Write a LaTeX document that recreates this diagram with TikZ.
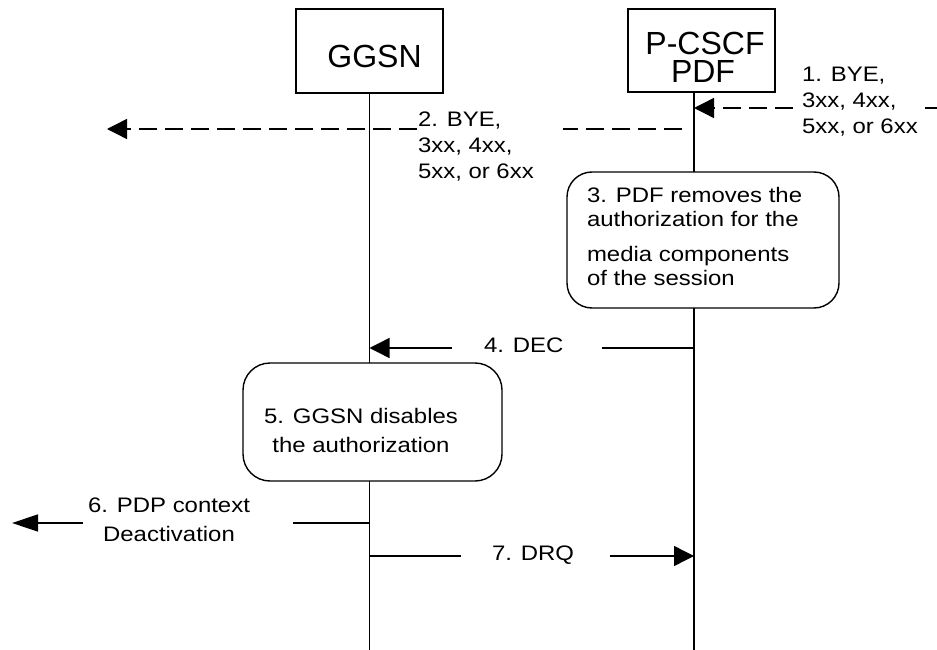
\documentclass[tikz,border=0pt]{standalone}
\usepackage{fontspec}
\setmainfont{Liberation Sans}
\newfontfamily\lblfont[FakeStretch=1.14]{Liberation Sans}
\usetikzlibrary{arrows.meta}
\begin{document}
\begin{tikzpicture}[x=1pt,y=-1pt,
  every node/.style={inner sep=0pt, outer sep=0pt},
  ln/.style={line width=1.4pt},
  dsh/.style={line width=1.4pt, dash pattern=on 18pt off 8pt},
  tip/.style={-{Triangle[length=20pt,width=20pt]}},
  tipsix/.style={-{Triangle[length=26pt,width=17pt]}},
  entity/.style={draw, line width=1.4pt, fill=white},
  actbox/.style={draw, line width=1.4pt, fill=white, rounded corners=25pt},
  titlefont/.style={font=\fontsize{32}{28}\selectfont},
  lbl/.style={font=\lblfont\fontsize{21}{26}\selectfont}
]
\useasboundingbox[fill=white] (0,0) rectangle (937,650);

% entities
\node[entity, minimum width=147pt, minimum height=84pt] (ggsnbox) at (369.5,51) {};
\node[titlefont, anchor=base] (ggsntxt) at (374.5,68) {GGSN};
\node[entity, minimum width=147pt, minimum height=83pt] (pcscfbox) at (701.5,50.5) {};
\node[titlefont, anchor=base] (pcscftxt) at (705,55) {P-CSCF};
\node[titlefont, anchor=base] (pdftxt) at (703,83) {PDF};

% action boxes
\node[actbox, minimum width=272pt, minimum height=136pt] (box3) at (703,240) {};
\node[lbl, anchor=north west, align=left, font=\lblfont\fontsize{21}{24}\selectfont] (box3txt) at (587,187)
  {3. PDF removes the\\authorization for the\\[11pt]media components\\of the session};
\node[actbox, rounded corners=27pt, minimum width=259pt, minimum height=118pt] (box5) at (372.5,422) {};
\node[lbl, anchor=north, align=center, font=\lblfont\fontsize{21}{29}\selectfont] (box5txt) at (361,408)
  {5. GGSN disables\\the authorization};

% lifeline ends
\coordinate (gend) at (369.5,650);
\coordinate (pend) at (694,650);
\draw[ln] (ggsnbox.south -| gend) -- (box5.north -| gend);
\draw[ln] (box5.south -| gend) -- (gend);
\draw[ln] (pcscfbox.south -| pend) -- (box3.north -| pend);
\draw[ln] (box3.south -| pend) -- (pend);

% message 1
\coordinate (m1r) at (937,108);
\coordinate (m1a) at (925,108);
\coordinate (m1b) at (793,108);
\draw[dsh] (m1r) -- (m1a);
\draw[dsh, tip] (m1b) -- (m1b -| pend);
\node[lbl, anchor=north west, align=left] (l1) at (802,67) {1. BYE,\\3xx, 4xx,\\5xx, or 6xx};

% message 2
\coordinate (m2a) at (682,129);
\coordinate (m2b) at (563,129);
\coordinate (m2c) at (417,129);
\coordinate (m2t) at (107,129);
\draw[dsh] (m2a) -- (m2b);
\draw[dsh, tip] (m2c) -- (m2t);
\node[lbl, anchor=north west, align=left] (l2) at (418,112) {2. BYE,\\3xx, 4xx,\\5xx, or 6xx};

% message 4
\coordinate (m4a) at (452,348);
\coordinate (m4b) at (602,348);
\draw[ln, tip] (m4a) -- (m4a -| gend);
\draw[ln] (m4b) -- (m4b -| pend);
\node[lbl, anchor=base west] (l4) at (484,352) {4. DEC};

% message 6
\coordinate (m6a) at (293,523);
\coordinate (m6b) at (83,523);
\coordinate (m6t) at (12,523);
\draw[ln] (m6a) -- (m6a -| gend);
\draw[ln, tipsix] (m6b) -- (m6t);
\node[lbl, anchor=north, align=center, font=\lblfont\fontsize{21}{29}\selectfont] (l6) at (169,498)
  {6. PDP context\\Deactivation};

% message 7
\coordinate (m7a) at (461,556);
\coordinate (m7b) at (610,556);
\draw[ln] (m7a -| gend) -- (m7a);
\draw[ln, tip] (m7b) -- (m7b -| pend);
\node[lbl, anchor=base west] (l7) at (492,560) {7. DRQ};
\end{tikzpicture}
\end{document}
